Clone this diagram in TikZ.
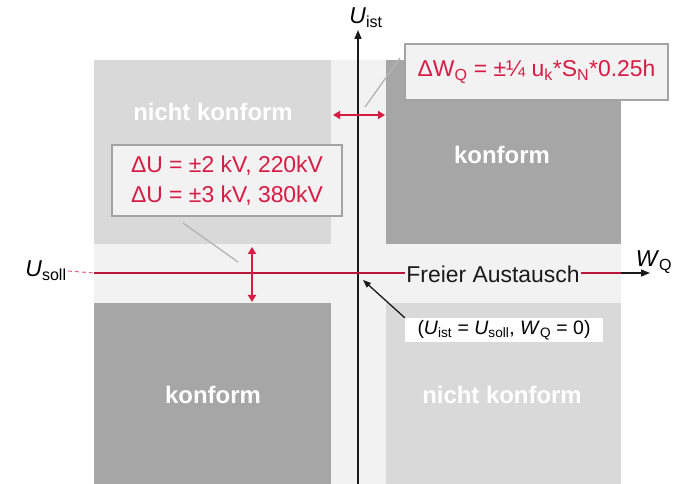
\documentclass[tikz,border=0pt]{standalone}
\usepackage{fontspec}
\setmainfont{Liberation Sans}
\usetikzlibrary{arrows.meta, positioning}
\definecolor{fieldfill}{HTML}{F2F2F2}
\definecolor{lightzone}{HTML}{D9D9D9}
\definecolor{darkzone}{HTML}{A6A6A6}
\definecolor{tolred}{HTML}{D81B45}
\definecolor{boxborder}{HTML}{A3A3A3}
\definecolor{leadergray}{HTML}{B4B4B4}
\definecolor{darkline}{HTML}{1A1A1A}
\tikzset{
  zone/.style={rectangle, inner sep=0pt, anchor=south west},
  light-zone/.style={zone, fill=lightzone},
  dark-zone/.style={zone, fill=darkzone},
  zone-label/.style={text=white, font=\fontsize{24}{28}\selectfont\bfseries},
  axis-label/.style={inner sep=1pt, font=\fontsize{23}{27}\selectfont},
  callout/.style={rectangle, fill=fieldfill, draw=boxborder, line width=1.6bp, text=tolred, align=center, font=\fontsize{23}{30}\selectfont},
  origin-box/.style={rectangle, fill=white, inner sep=2bp, minimum width=198bp, minimum height=24bp, font=\fontsize{19.5}{22}\selectfont},
  axis/.style={-{Triangle[length=9bp, width=7bp]}, line width=1.3bp, draw=darkline},
  soll-line/.style={line width=1.3bp, draw=tolred!85!black},
  soll-dash/.style={line width=1bp, draw=tolred!70, dash pattern=on 4bp off 3bp},
  gap-arrow/.style={{Triangle[length=7bp, width=8bp]}-{Triangle[length=7bp, width=8bp]}, line width=2.2bp, draw=tolred},
  leader/.style={line width=1.3bp, draw=leadergray},
  pointer/.style={-{Triangle[length=8bp, width=6bp]}, line width=1.3bp, draw=darkline}
}

\begin{document}
\begin{tikzpicture}[x=1bp, y=1bp]
\useasboundingbox (0,0) rectangle (699,484);

% operating field and the four zones
\node[zone, fill=fieldfill, minimum width=527bp, minimum height=424bp] (field) at (94,0) {};
\node[light-zone, minimum width=237bp, minimum height=184bp] (nwzone) at (94,240) {};
\node[dark-zone, minimum width=235bp, minimum height=184bp] (nezone) at (386,240) {};
\node[dark-zone, minimum width=237bp, minimum height=181bp] (swzone) at (94,0) {};
\node[light-zone, minimum width=235bp, minimum height=181bp] (sezone) at (386,0) {};

\node[zone-label] (nwlabel) at (213,372) {nicht konform};
\node[zone-label] (nelabel) at (502,329) {konform};
\node[zone-label] (swlabel) at (213,89) {konform};
\node[zone-label] (selabel) at (502,89) {nicht konform};

% axes
\coordinate (origin) at (358,211);
\coordinate (yfoot) at (358,0);
\coordinate (ytip) at (358,454);
\coordinate (xstart) at (94,211);
\coordinate (xtip) at (650,211);
\node[axis-label] (uist) at (366,466) {\textit{U}\textsubscript{ist}};
\node[axis-label] (usoll) at (46,213) {\textit{U}\textsubscript{soll}};
\node[axis-label] (wq) at (654,222) {\textit{W}\textsubscript{Q}};

\draw[axis] (yfoot) -- (ytip);
\draw[axis] (xstart) -- (xtip);
\draw[soll-dash] (usoll.east) -- (xstart);
\draw[soll-line] (xstart) -- (field.east |- origin);
\node[axis-label, fill=fieldfill, text=darkline] (freier) at (493,210) {Freier Austausch};

% tolerance bands
\coordinate (hgapw) at (333,369);
\coordinate (hgape) at (385,369);
\coordinate (vgapn) at (252,237);
\coordinate (vgaps) at (252,182);
\draw[gap-arrow] (hgapw) -- (hgape);
\draw[gap-arrow] (vgapn) -- (vgaps);

% callouts
\node[callout, minimum width=263bp, minimum height=56bp] (dwq) at (536.5,412) {ΔW\textsubscript{Q} = ±¼ u\textsubscript{k}*S\textsubscript{N}*0.25h};
\node[callout, minimum width=230bp, minimum height=71bp] (du) at (227,303.5) {ΔU = ±2 kV, 220kV\\ΔU = ±3 kV, 380kV};
\coordinate (dwqhook) at (400,426);
\coordinate (hgapmark) at (365,377);
\coordinate (duhook) at (183,261);
\coordinate (vgapmark) at (238,222);
\draw[leader] (hgapmark) -- (dwqhook);
\draw[leader] (duhook) -- (vgapmark);

\node[origin-box] (originbox) at (504,154) {(\textit{U}\textsubscript{ist} = \textit{U}\textsubscript{soll}, \textit{W}\textsubscript{Q} = 0)};
\coordinate (origintip) at (363,204);
\draw[pointer] (originbox.north west) -- (origintip);

\end{tikzpicture}
\end{document}
